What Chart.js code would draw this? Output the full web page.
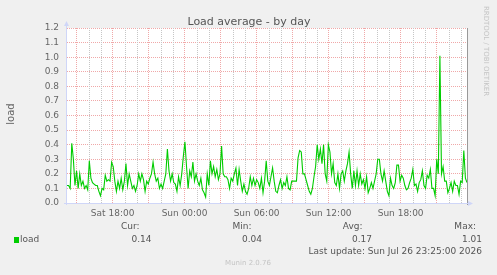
<!DOCTYPE html>
<html>
<head>
<meta charset="utf-8">
<script src="https://cdn.jsdelivr.net/npm/chart.js@4.4.0/dist/chart.umd.min.js"></script>
<style>
    html, body { margin: 0; padding: 0; background: #f0f0f0; }
    #wrap { width: 497px; height: 275px; position: relative; }
</style>
</head>
<body>
<div id="wrap"><canvas id="loadChart"></canvas></div>
<script>
// time axis in hours counted from Sat 00:00
const startHour = 14.2;
const endHour = 47.53;

const tickHours = [18, 24, 30, 36, 42];
const tickLabels = ["Sat 18:00", "Sun 00:00", "Sun 06:00", "Sun 12:00", "Sun 18:00"];

const yMax = 1.2;
const yStep = 0.1;

// load average samples, left to right
const loadValues = [
    0.12, 0.12, 0.10, 0.41, 0.30, 0.12, 0.22, 0.10, 0.20, 0.12, 0.15, 0.10, 0.12, 0.09, 0.29, 0.17,
    0.14, 0.13, 0.12, 0.12, 0.08, 0.05, 0.10, 0.09, 0.19, 0.15, 0.16, 0.15, 0.28, 0.25, 0.15, 0.08,
    0.15, 0.10, 0.17, 0.09, 0.15, 0.27, 0.12, 0.20, 0.15, 0.10, 0.12, 0.08, 0.12, 0.20, 0.15, 0.20,
    0.16,
    0.08, 0.15, 0.13, 0.17, 0.20, 0.28, 0.20, 0.15, 0.17, 0.10, 0.13, 0.10, 0.15, 0.20, 0.37, 0.22,
    0.15, 0.20, 0.14, 0.13, 0.08, 0.18, 0.12, 0.20, 0.32, 0.42, 0.25, 0.10, 0.22, 0.18, 0.28, 0.15,
    0.20, 0.15, 0.12, 0.17, 0.09, 0.07, 0.04, 0.20, 0.12, 0.29, 0.20, 0.25, 0.18, 0.23, 0.16, 0.20,
    0.39, 0.20, 0.18, 0.18,
    0.16, 0.10, 0.17, 0.15, 0.20, 0.24, 0.12, 0.23, 0.15, 0.08, 0.13, 0.08, 0.06, 0.10, 0.18, 0.12,
    0.17, 0.12, 0.16, 0.14, 0.10, 0.17, 0.07, 0.15, 0.29, 0.15, 0.12, 0.18, 0.24, 0.15, 0.08, 0.07,
    0.12, 0.16, 0.10, 0.14, 0.12, 0.18, 0.10, 0.09, 0.15, 0.15, 0.15, 0.15, 0.31, 0.36, 0.35, 0.20,
    0.20, 0.16,
    0.12, 0.08, 0.06, 0.10, 0.18, 0.25, 0.40, 0.30, 0.37, 0.27, 0.40, 0.20, 0.15, 0.40, 0.35, 0.20,
    0.27, 0.14, 0.12, 0.20, 0.10, 0.20, 0.22, 0.15, 0.22, 0.27, 0.35, 0.20, 0.10, 0.22, 0.12, 0.22,
    0.12, 0.20, 0.13, 0.16, 0.10, 0.18, 0.07, 0.10, 0.14, 0.10, 0.15, 0.20, 0.30, 0.30, 0.20, 0.15,
    0.22, 0.15, 0.08,
    0.05, 0.17, 0.12, 0.10, 0.14, 0.26, 0.26, 0.15, 0.19, 0.17, 0.12, 0.09, 0.10, 0.14, 0.17, 0.23,
    0.12, 0.13, 0.08, 0.14, 0.16, 0.22, 0.12, 0.10, 0.19, 0.17, 0.23, 0.10, 0.10, 0.05, 0.30, 0.20,
    1.01, 0.20, 0.25, 0.15, 0.15, 0.07, 0.10, 0.14, 0.08, 0.15, 0.12, 0.12, 0.06, 0.15, 0.14, 0.36,
    0.17, 0.14
];

const statLabels = ["Cur:", "Min:", "Avg:", "Max:"];
const statValues = ["0.14", "0.04", "0.17", "1.01"];

const stepHours = (endHour - startHour) / (loadValues.length - 1);
const points = loadValues.map((v, i) => ({ x: startHour + i * stepHours, y: v }));

const FONT = "'DejaVu Sans', sans-serif";

// munin style frame, axes and legend
const muninDecor = {
    id: "muninDecor",
    beforeDraw(chart) {
        const ctx = chart.ctx;
        const a = chart.chartArea;
        ctx.save();
        ctx.fillStyle = "#f0f0f0";
        ctx.fillRect(0, 0, chart.width, chart.height);
        ctx.fillStyle = "#ffffff";
        ctx.fillRect(a.left, a.top, a.right - a.left, a.bottom - a.top);
        ctx.restore();
    },
    beforeDatasetsDraw(chart) {
        // hourly minor grid, drawn by hand so the dots stay grey
        const ctx = chart.ctx;
        const a = chart.chartArea;
        const xs = chart.scales.x;
        ctx.save();
        ctx.strokeStyle = "#c6c6c6";
        ctx.lineWidth = 1;
        ctx.setLineDash([1, 1]);
        xs.ticks.forEach(t => {
            if (t.value % 3 === 0) return;
            const px = Math.round(xs.getPixelForValue(t.value)) + 0.5;
            ctx.beginPath();
            ctx.moveTo(px, a.top);
            ctx.lineTo(px, a.bottom);
            ctx.stroke();
        });
        ctx.restore();
    },
    afterDraw(chart) {
        const ctx = chart.ctx;
        const a = chart.chartArea;
        ctx.save();

        // right border
        ctx.strokeStyle = "#999999";
        ctx.lineWidth = 1;
        ctx.beginPath();
        ctx.moveTo(a.right + 0.5, a.top);
        ctx.lineTo(a.right + 0.5, a.bottom + 2);
        ctx.stroke();

        // axes with arrows
        ctx.strokeStyle = "#cfd6f8";
        ctx.fillStyle = "#cfd6f8";
        ctx.beginPath();
        ctx.moveTo(a.left - 0.5, a.bottom + 2);
        ctx.lineTo(a.left - 0.5, a.top - 5);
        ctx.moveTo(a.left - 3, a.bottom + 0.5);
        ctx.lineTo(a.right + 2, a.bottom + 0.5);
        ctx.stroke();
        ctx.beginPath();
        ctx.moveTo(a.left - 3, a.top - 2);
        ctx.lineTo(a.left + 2, a.top - 2);
        ctx.lineTo(a.left - 0.5, a.top - 7);
        ctx.closePath();
        ctx.fill();
        ctx.beginPath();
        ctx.moveTo(a.right + 1, a.bottom - 2);
        ctx.lineTo(a.right + 1, a.bottom + 3);
        ctx.lineTo(a.right + 6, a.bottom + 0.5);
        ctx.closePath();
        ctx.fill();

        // title
        ctx.fillStyle = "#555555";
        ctx.font = "11px " + FONT;
        ctx.textAlign = "center";
        ctx.textBaseline = "alphabetic";
        ctx.fillText("Load average - by day", 249, 25);

        // y axis title
        ctx.save();
        ctx.translate(14, 114);
        ctx.rotate(-Math.PI / 2);
        ctx.font = "10px " + FONT;
        ctx.fillStyle = "#666666";
        ctx.textAlign = "center";
        ctx.fillText("load", 0, 0);
        ctx.restore();

        // rrdtool watermark
        ctx.save();
        ctx.translate(484, 51);
        ctx.rotate(Math.PI / 2);
        ctx.font = "7px " + FONT;
        ctx.fillStyle = "#c4c4c4";
        ctx.textAlign = "center";
        ctx.fillText("RRDTOOL / TOBI OETIKER", 0, 0);
        ctx.restore();

        // legend
        ctx.font = "9px " + FONT;
        ctx.fillStyle = "#555555";
        ctx.textBaseline = "middle";
        ctx.textAlign = "right";
        const colRight = [139.5, 251.5, 362.5, 476];
        const valRight = [151.5, 262, 372, 482];
        statLabels.forEach((s, i) => ctx.fillText(s, colRight[i], 227));
        statValues.forEach((s, i) => ctx.fillText(s, valRight[i], 239.5));
        ctx.fillText("Last update: Sun Jul 26 23:25:00 2026", 482, 251.5);

        ctx.textAlign = "left";
        ctx.fillText("load", 20, 239.5);
        ctx.fillStyle = "#00cc00";
        ctx.fillRect(14, 237, 5, 6);

        ctx.font = "7px " + FONT;
        ctx.fillStyle = "#c4c4c4";
        ctx.textAlign = "center";
        ctx.fillText("Munin 2.0.76", 248, 263);

        ctx.restore();
    }
};

document.addEventListener("DOMContentLoaded", function () {
    const ctx = document.getElementById("loadChart").getContext("2d");

    new Chart(ctx, {
        type: "line",
        data: {
            datasets: [{
                label: "load",
                data: points,
                borderColor: "#00cc00",
                borderWidth: 1.1,
                pointRadius: 0,
                tension: 0,
                fill: false
            }]
        },
        options: {
            responsive: true,
            maintainAspectRatio: false,
            animation: false,
            layout: {
                padding: { left: 0, right: 30, top: 28, bottom: 52 }
            },
            plugins: {
                legend: { display: false },
                tooltip: { enabled: false }
            },
            scales: {
                x: {
                    type: "linear",
                    min: startHour,
                    max: endHour,
                    afterBuildTicks: function (scale) {
                        const ticks = [];
                        for (let h = Math.ceil(scale.min); h <= Math.floor(scale.max); h++) {
                            ticks.push({ value: h });
                        }
                        scale.ticks = ticks;
                    },
                    afterFit: function (scale) { scale.height = 20; },
                    grid: {
                        drawTicks: false,
                        color: function (c) {
                            if (!c.tick || c.tick.value % 3 !== 0) return "rgba(0,0,0,0)";
                            return "#f0a8a8";
                        }
                    },
                    border: { display: false, dash: [1, 1] },
                    ticks: {
                        autoSkip: false,
                        maxRotation: 0,
                        minRotation: 0,
                        padding: 5,
                        color: "#666666",
                        font: { family: "DejaVu Sans", size: 9 },
                        callback: function (value) {
                            const i = tickHours.indexOf(value);
                            return i >= 0 ? tickLabels[i] : "";
                        }
                    }
                },
                y: {
                    min: 0,
                    max: yMax,
                    afterFit: function (scale) { scale.width = 67; },
                    grid: {
                        drawTicks: false,
                        color: "#f0a8a8"
                    },
                    border: { display: false, dash: [1, 1] },
                    ticks: {
                        stepSize: yStep,
                        padding: 8,
                        color: "#666666",
                        font: { family: "DejaVu Sans", size: 9 },
                        callback: function (value) { return value.toFixed(1); }
                    }
                }
            }
        },
        plugins: [muninDecor]
    });
});
</script>
</body>
</html>
